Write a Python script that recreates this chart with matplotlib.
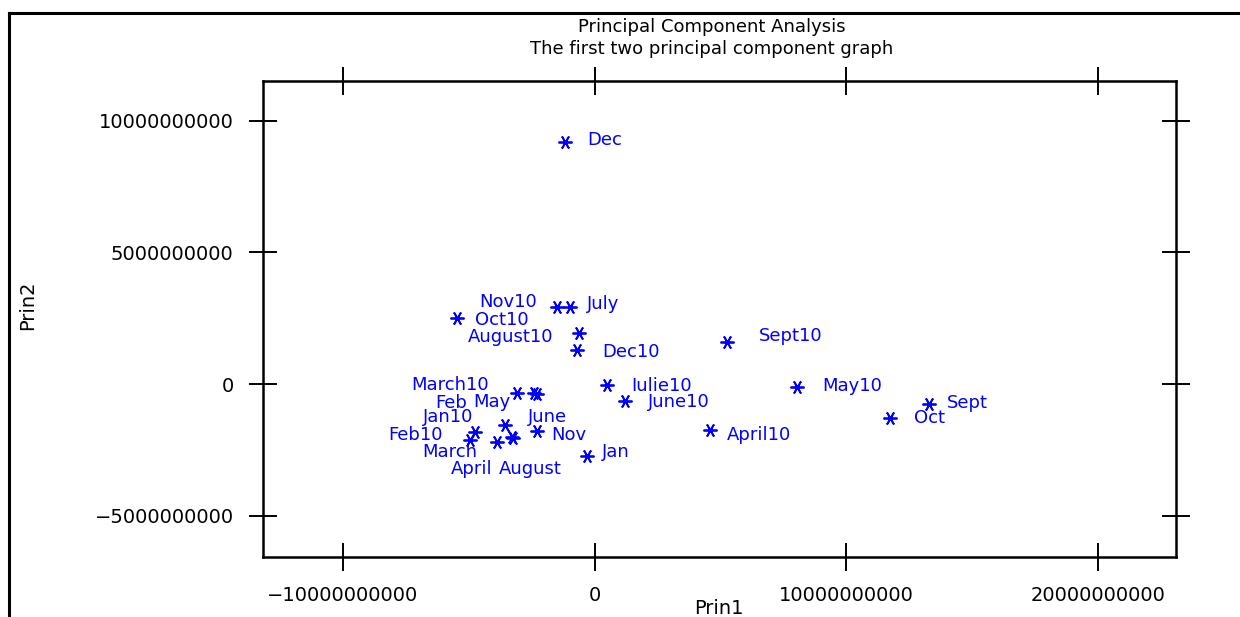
import numpy as np
import matplotlib
matplotlib.use("Agg")
import matplotlib.pyplot as plt
from matplotlib.lines import Line2D

# data: month labels and the first two principal components
labels = ['Dec', 'Nov10', 'July', 'Oct10', 'August10', 'Dec10', 'Sept10',
          'March10', 'Feb', 'May', 'Iulie10', 'June10', 'May10', 'Sept',
          'Oct', 'April10', 'Jan', 'Jan10', 'June', 'Nov', 'Feb10',
          'March', 'April', 'August']
prin1 = [-1.17e9, -1.50e9, -0.97e9, -5.47e9, -0.64e9, -0.68e9, 5.25e9,
         -3.09e9, -2.30e9, -2.40e9, 0.48e9, 1.21e9, 8.03e9, 13.26e9,
         11.74e9, 4.59e9, -0.31e9, -3.55e9, -3.29e9, -2.30e9, -4.75e9,
         -4.94e9, -3.88e9, -3.24e9]
prin2 = [9.20e9, 2.94e9, 2.91e9, 2.50e9, 1.93e9, 1.29e9, 1.61e9,
         -0.33e9, -0.38e9, -0.34e9, -0.04e9, -0.63e9, -0.13e9, -0.76e9,
         -1.30e9, -1.75e9, -2.73e9, -1.56e9, -2.00e9, -1.77e9, -1.81e9,
         -2.13e9, -2.19e9, -2.05e9]

# label placement (pixel offsets from the point, alignment)
lab_dx = [21.7, -20, 16.7, 18.3, -25, 24.4, 31.6,
          -28.4, -69.7, -24, 25, 23, 25, 18.4,
          23.3, 16.7, 15, -31.7, 16.3, 15, -32,
          6.7, -4.7, 48.7]
lab_dy = [1.7, 5, 3.3, -1.7, -3.5, -1.7, 5.7,
          7.5, -8.5, -9.2, -0.5, -1.5, 1.3, 1.3,
          0, -5, 4.3, 7.7, 19.4, -4.3, -3.3,
          -11.7, -27.5, -31]
lab_ha = ['left', 'right', 'left', 'left', 'right', 'left', 'left',
          'right', 'right', 'right', 'left', 'left', 'left', 'left',
          'left', 'left', 'left', 'right', 'left', 'left', 'right',
          'right', 'right', 'right']

plt.rcParams['font.family'] = ['DejaVu Sans']
plt.rcParams['axes.unicode_minus'] = True

fig = plt.figure(figsize=(12.4, 6.17), dpi=100)
ax = fig.add_axes([0.2119, 0.0968, 0.7365, 0.7724])

blue = '#0000ff'
ax.plot(prin1, prin2, ls='none', marker=(6, 2, 90), ms=10, mew=1.3,
        color=blue)
for i in range(len(labels)):
    ax.annotate(labels[i], (prin1[i], prin2[i]), xytext=(lab_dx[i], lab_dy[i]),
                textcoords='offset pixels', ha=lab_ha[i], va='center',
                color=blue, fontsize=13)

ax.set_xlim(-1.318e10, 2.309e10)
ax.set_ylim(-6.58e9, 11.52e9)
ax.set_xticks([-1e10, 0, 1e10, 2e10])
ax.set_yticks([-5e9, 0, 5e9, 1e10])
ax.ticklabel_format(style='plain', useOffset=False)
ax.tick_params(direction='inout', length=20, width=1.4, top=True, right=True,
               labelsize=14, pad=11, colors='black')
for s in ax.spines.values():
    s.set_linewidth(1.8)

fig.text(712/1240, 1-27.5/617, 'Principal Component Analysis', ha='center',
         va='center', fontsize=13)
fig.text(712/1240, 1-48.5/617, 'The first two principal component graph',
         ha='center', va='center', fontsize=13)
fig.text(719/1240, 1-608/617, 'Prin1', ha='center', va='center', fontsize=14)
fig.text(28/1240, 1-305/617, 'Prin2', ha='center', va='center', fontsize=14,
         rotation=90)

# outer frame lines
fig.add_artist(Line2D([9/1240, 1], [1-13/617, 1-13/617], color='black', lw=2.2))
fig.add_artist(Line2D([9/1240, 9/1240], [0, 1-13/617], color='black', lw=2.2))

plt.savefig('out.png', dpi=100)
